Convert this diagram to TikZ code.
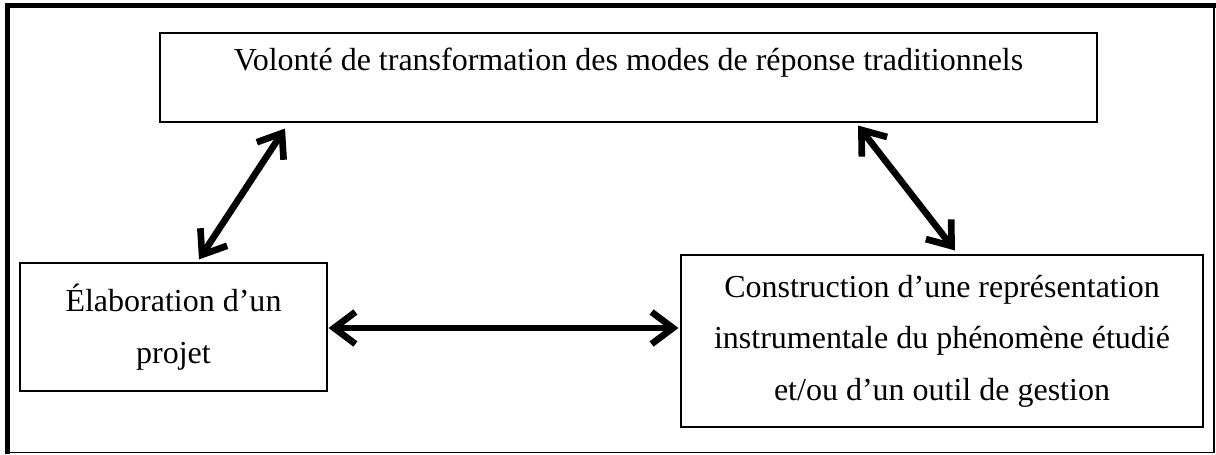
\documentclass[tikz,border=0pt]{standalone}
\usepackage{fontspec}
\setmainfont{Liberation Serif}
\usetikzlibrary{arrows.meta,calc}

\begin{document}
\begin{tikzpicture}[x=0.75pt, y=-0.75pt,
	bloc/.style={draw, line width=0.8pt, align=center, inner sep=0pt,
		font=\fontsize{24}{38.5}\selectfont},
	lien/.style={line width=5pt, line cap=round, line join=round,
		{Straight Barb[length=16pt,width=24pt]}-{Straight Barb[length=16pt,width=24pt]}}]

	\def\frameThick{4pt};
	\def\frameThin{1pt};

	% Frame
	\useasboundingbox (0,0) rectangle (1216,454);
	\draw[line width=\frameThick] (7.5,454) -- (7.5,5.5) -- (1216,5.5);
	\draw[line width=\frameThin] (1214,5.5) -- (1214,452.5) -- (7.5,452.5);

	% Boxes
	\node[bloc, minimum width=702.75pt, text height=27.75pt, text depth=39pt] (volonte) at (628.5,77.5)
		{Volonté de transformation des modes de réponse traditionnels};

	\node[bloc, minimum width=230.25pt, minimum height=96pt] (elab) at (173.5,327)
		{Élaboration d’un\\projet};

	\node[bloc, minimum width=391.5pt, minimum height=129pt] (constr) at (942,341)
		{Construction d’une représentation\\instrumentale du phénomène étudié\\et/ou d’un outil de gestion};

	% Links
	\draw[lien] ($(elab.north)+(25.5,-3)$) -- ($(volonte.south)+(-343.5,6)$);
	\draw[lien] ($(volonte.south)+(229.5,3)$) -- ($(constr.north)+(13,-4)$);
	\draw[lien] ($(elab.east)+(1,1)$) -- ($(elab.east -| constr.west)+(-2,1)$);

\end{tikzpicture}
\end{document}
